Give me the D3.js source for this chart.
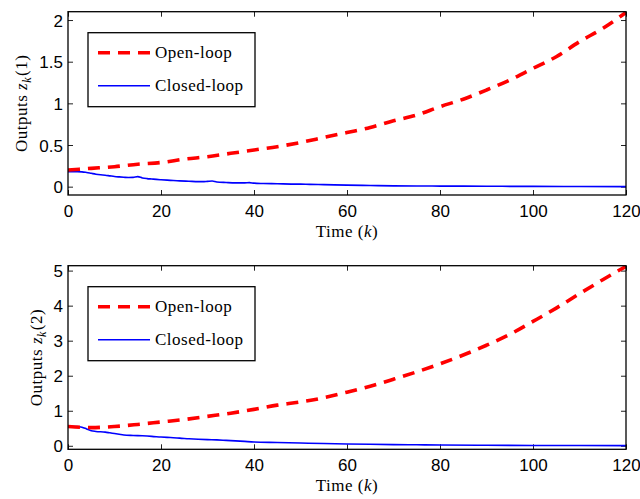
<!DOCTYPE html>
<html>
<head>
<meta charset="utf-8">
<script src="https://cdn.jsdelivr.net/npm/d3@7"></script>
<style>
  html, body { margin: 0; padding: 0; background: #fff; }
  svg { display: block; }
  .tick-label { font-family: "Liberation Sans", Arial, Helvetica, sans-serif; font-size: 17px; fill: #000; }
  .serif { font-family: "Liberation Serif", "Times New Roman", serif; font-size: 17px; fill: #000; letter-spacing: 0.5px; }
</style>
</head>
<body>
<svg id="chart" width="640" height="499"></svg>
<script>
// Time axis
const xTicks = [0, 20, 40, 60, 80, 100, 120];

// Output 1
const kOpen1 = [0, 5, 10, 15, 20, 25, 30, 35, 40, 45, 50, 55, 60, 65, 70, 75, 80, 85, 90, 95, 100, 105, 110, 115, 120];
const open1 = [0.20, 0.22, 0.24, 0.27, 0.29, 0.33, 0.36, 0.40, 0.44, 0.48, 0.53, 0.59, 0.65, 0.71, 0.79, 0.86, 0.96, 1.05, 1.16, 1.28, 1.42, 1.56, 1.74, 1.90, 2.09];
const kClosed1 = [0, 1, 2, 3, 4, 5, 6, 7, 8, 9, 10, 11, 12, 13, 14, 15, 16, 17, 18, 19, 20, 22, 24, 26, 28, 29, 30, 31, 32, 34, 36, 38, 39, 40, 42, 45, 48, 50, 52, 55, 60, 65, 70, 75, 80, 90, 100, 110, 120];
const closed1 = [0.18, 0.18, 0.18, 0.178, 0.17, 0.16, 0.15, 0.143, 0.138, 0.13, 0.122, 0.117, 0.113, 0.11, 0.112, 0.12, 0.105, 0.097, 0.092, 0.087, 0.083, 0.076, 0.069, 0.065, 0.061, 0.06, 0.064, 0.068, 0.056, 0.05, 0.046, 0.046, 0.048, 0.042, 0.038, 0.035, 0.031, 0.03, 0.027, 0.024, 0.018, 0.014, 0.01, 0.008, 0.007, 0.005, 0.003, 0.002, 0.001];
const yTicks1 = [0, 0.5, 1, 1.5, 2];
const yLabels1 = ["0", "0.5", "1", "1.5", "2"];

// Output 2
const kOpen2 = [0, 5, 10, 15, 20, 25, 30, 35, 40, 45, 50, 55, 60, 65, 70, 75, 80, 85, 90, 95, 100, 105, 110, 115, 120];
const open2 = [0.55, 0.52, 0.55, 0.61, 0.68, 0.75, 0.84, 0.93, 1.04, 1.16, 1.25, 1.37, 1.53, 1.70, 1.90, 2.11, 2.34, 2.59, 2.87, 3.18, 3.55, 3.93, 4.34, 4.74, 5.12];
const kClosed2 = [0, 1, 2, 3, 4, 5, 6, 8, 9, 10, 11, 12, 14, 16, 18, 20, 22, 24, 26, 28, 30, 32, 34, 36, 38, 40, 45, 50, 55, 60, 65, 70, 75, 80, 90, 100, 110, 120];
const closed2 = [0.55, 0.55, 0.55, 0.53, 0.48, 0.43, 0.41, 0.39, 0.37, 0.35, 0.33, 0.31, 0.295, 0.285, 0.27, 0.25, 0.235, 0.22, 0.2, 0.185, 0.175, 0.17, 0.155, 0.14, 0.125, 0.11, 0.095, 0.08, 0.065, 0.052, 0.042, 0.034, 0.028, 0.022, 0.015, 0.01, 0.007, 0.005];
const yTicks2 = [0, 1, 2, 3, 4, 5];
const yLabels2 = ["0", "1", "2", "3", "4", "5"];

const seriesNames = ["Open-loop", "Closed-loop"];

const svg = d3.select("#chart");

function panel(cfg) {
  const { top, bottom, yDomain, kOpen, open, kClosed, closed, yTicks, yLabels, index, yLabelX, id } = cfg;
  const left = 68, right = 626;
  const x = d3.scaleLinear().domain([0, 120]).range([left, right]);
  const y = d3.scaleLinear().domain(yDomain).range([bottom, top]);
  const g = svg.append("g");

  g.append("clipPath").attr("id", id).append("rect")
    .attr("x", left).attr("y", top).attr("width", right - left).attr("height", bottom - top);

  // axes with inward ticks on all four sides
  const tickLen = 5;
  const bottomAxis = d3.axisBottom(x).tickValues(xTicks).tickSize(-tickLen).tickPadding(10);
  const topAxis = d3.axisTop(x).tickValues(xTicks).tickSize(-tickLen).tickFormat("");
  const leftAxis = d3.axisLeft(y).tickValues(yTicks).tickSize(-tickLen).tickPadding(10)
    .tickFormat((d, i) => yLabels[i]);
  const rightAxis = d3.axisRight(y).tickValues(yTicks).tickSize(-tickLen).tickFormat("");

  const styleAxis = sel => {
    sel.select(".domain").remove();
    sel.selectAll(".tick line").attr("stroke", "#222").attr("stroke-width", 1);
    sel.selectAll(".tick text").attr("class", "tick-label").attr("font-family", null).attr("font-size", null);
  };
  g.append("g").attr("transform", `translate(0,${bottom})`).call(bottomAxis).call(styleAxis)
    .selectAll(".tick text").attr("dy", "0.71em");
  g.append("g").attr("transform", `translate(0,${top})`).call(topAxis).call(styleAxis);
  g.append("g").attr("transform", `translate(${left},0)`).call(leftAxis).call(styleAxis)
    .selectAll(".tick text").attr("dy", "0.36em").attr("x", -5);
  g.append("g").attr("transform", `translate(${right},0)`).call(rightAxis).call(styleAxis);

  const line = d3.line().x(d => x(d[0])).y(d => y(d[1])).curve(d3.curveMonotoneX);
  const lines = g.append("g").attr("clip-path", `url(#${id})`);

  lines.append("path")
    .datum(kClosed.map((k, i) => [k, closed[i]]))
    .attr("d", line).attr("fill", "none")
    .attr("stroke", "#0000ff").attr("stroke-width", 1.6);

  lines.append("path")
    .datum(kOpen.map((k, i) => [k, open[i]]))
    .attr("d", line).attr("fill", "none")
    .attr("stroke", "#ff0000").attr("stroke-width", 3.6)
    .attr("stroke-dasharray", "12,8");

  // frame
  g.append("rect").attr("x", left).attr("y", top).attr("width", right - left).attr("height", bottom - top)
    .attr("fill", "none").attr("stroke", "#000").attr("stroke-width", 1.3);

  // x label
  const xl = g.append("text").attr("class", "serif").attr("text-anchor", "middle")
    .attr("x", (left + right) / 2).attr("y", bottom + 42);
  xl.append("tspan").text("Time (");
  xl.append("tspan").attr("font-style", "italic").text("k");
  xl.append("tspan").text(")");

  // y label
  const yl = g.append("text").attr("class", "serif").attr("text-anchor", "middle")
    .attr("transform", `translate(${yLabelX},${(top + bottom) / 2}) rotate(-90)`);
  yl.append("tspan").text("Outputs ");
  yl.append("tspan").attr("font-style", "italic").text("z");
  yl.append("tspan").attr("font-style", "italic").attr("font-size", "12px").attr("dy", "3.5").text("k");
  yl.append("tspan").attr("dy", "-3.5").attr("dx", "1").text("(" + index + ")");

  // legend
  const lx = 88, ly = top + 21, lw = 167, lh = 74;
  const lg = g.append("g");
  lg.append("rect").attr("x", lx).attr("y", ly).attr("width", lw).attr("height", lh)
    .attr("fill", "#fff").attr("stroke", "#000").attr("stroke-width", 1.3);
  const rows = [
    { name: seriesNames[0], color: "#ff0000", w: 3.6, dash: "12,8", cy: ly + 20 },
    { name: seriesNames[1], color: "#0000ff", w: 1.6, dash: null, cy: ly + 53 }
  ];
  rows.forEach(r => {
    lg.append("line").attr("x1", 98).attr("x2", 150).attr("y1", r.cy).attr("y2", r.cy)
      .attr("stroke", r.color).attr("stroke-width", r.w).attr("stroke-dasharray", r.dash);
    lg.append("text").attr("class", "serif").attr("x", 155).attr("y", r.cy).attr("dy", "0.33em").text(r.name);
  });
}

panel({ id: "clip1", top: 11.7, bottom: 195, yDomain: [-0.1, 2.1], kOpen: kOpen1, open: open1,
  kClosed: kClosed1, closed: closed1, yTicks: yTicks1, yLabels: yLabels1, index: 1, yLabelX: 27 });
panel({ id: "clip2", top: 265.7, bottom: 449.3, yDomain: [-0.1, 5.14], kOpen: kOpen2, open: open2,
  kClosed: kClosed2, closed: closed2, yTicks: yTicks2, yLabels: yLabels2, index: 2, yLabelX: 42 });
</script>
</body>
</html>
